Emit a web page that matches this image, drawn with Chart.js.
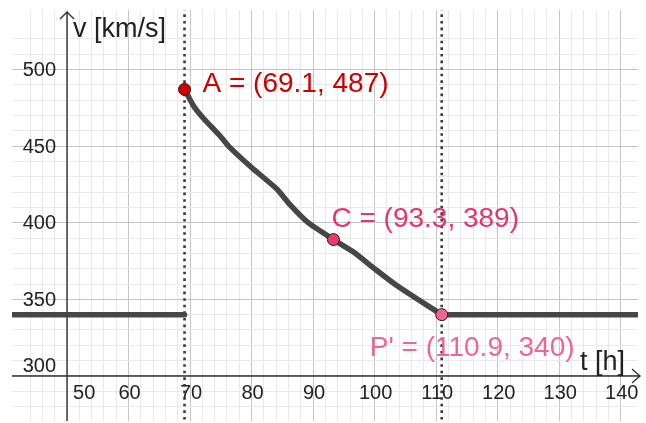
<!DOCTYPE html>
<html>
<head>
<meta charset="utf-8">
<script src="https://cdn.jsdelivr.net/npm/chart.js@4"></script>
<style>
  html, body { margin: 0; padding: 0; background: #fff; overflow: hidden; }
  #wrap { width: 646px; height: 428px; }
</style>
</head>
<body>
<div id="wrap"><canvas id="chart"></canvas></div>
<script>
// curve: t [h], v [km/s]
const curveT = [69.1, 70.6, 72.2, 74.9, 76.5, 80.0, 84.1, 86.2, 89.2, 93.3, 96.5, 100.3, 103.6, 106.8, 110.9];
const curveV = [487, 476, 468, 456.5, 449, 436, 422, 412, 400, 389, 381, 369, 359, 350.5, 340];

const flatV = 340;
const leftFlatT = [35, 69.1];
const rightFlatT = [110.9, 150];

const pointNames = ['A', 'C', "P'"];
const pointT = [69.1, 93.3, 110.9];
const pointV = [487, 389, 340];

const markerT = [69.1, 110.9];

const xTicks = [50, 60, 70, 80, 90, 100, 110, 120, 130, 140];
const yTicks = [300, 350, 400, 450, 500];

const originT = 50, originV = 300;

// styles
const pointFill = ['#d40000', '#ec3a6e', '#f06496'];
const labelColor = ['#cc0000', '#e8336b', '#ef6596'];
const labelOffset = [[18, 3], [-2, -13], [-72, 41]];
const FONT = '"Liberation Sans", Arial, sans-serif';

const near = (v, step) => Math.abs(v - Math.round(v / step) * step) < 1e-6;

const gridColor = (major) => (c) => {
  const v = c.tick.value;
  if (near(v, major)) return '#c4c4c4';
  if (near(v, major / 5)) return '#e9e9e9';
  return 'rgba(0,0,0,0)';
};

const axesPlugin = {
  id: 'axes',
  beforeDatasetsDraw(chart) {
    const { ctx, chartArea: a, scales: { x, y } } = chart;
    const ox = x.getPixelForValue(originT);
    const oy = y.getPixelForValue(originV);
    ctx.save();
    ctx.strokeStyle = '#333';
    ctx.lineWidth = 1.4;
    ctx.beginPath();
    ctx.moveTo(a.left, oy); ctx.lineTo(a.right + 2, oy);
    ctx.moveTo(ox, a.bottom); ctx.lineTo(ox, a.top + 2);
    // arrows
    ctx.moveTo(a.right - 6, oy - 7); ctx.lineTo(a.right + 2, oy); ctx.lineTo(a.right - 6, oy + 7);
    ctx.moveTo(ox - 7, a.top + 9); ctx.lineTo(ox, a.top + 2); ctx.lineTo(ox + 7, a.top + 9);
    ctx.stroke();

    ctx.fillStyle = '#222';
    ctx.font = '20px ' + FONT;
    ctx.textBaseline = 'top';
    xTicks.forEach(t => {
      const px = x.getPixelForValue(t);
      if (t === originT) { ctx.textAlign = 'left'; ctx.fillText(String(t), px + 6, oy + 8); }
      else { ctx.textAlign = 'center'; ctx.fillText(String(t), px + 1, oy + 8); }
    });
    ctx.textAlign = 'right';
    yTicks.forEach(v => {
      const py = y.getPixelForValue(v);
      if (v === originV) { ctx.textBaseline = 'alphabetic'; ctx.fillText(String(v), ox - 11, py - 4); }
      else { ctx.textBaseline = 'middle'; ctx.fillText(String(v), ox - 11, py + 1); }
    });

    ctx.font = '27px ' + FONT;
    ctx.textBaseline = 'alphabetic';
    ctx.textAlign = 'left';
    ctx.fillText('v [km/s]', ox + 6, a.top + 27);
    ctx.textAlign = 'right';
    ctx.fillText('t [h]', a.right - 13, oy - 6);
    ctx.restore();
  },
  afterDatasetsDraw(chart) {
    const { ctx, scales: { x, y } } = chart;
    ctx.save();
    ctx.font = '28px ' + FONT;
    ctx.textAlign = 'left';
    ctx.textBaseline = 'alphabetic';
    pointNames.forEach((n, i) => {
      const px = x.getPixelForValue(pointT[i]);
      const py = y.getPixelForValue(pointV[i]);
      ctx.fillStyle = labelColor[i];
      ctx.fillText(`${n} = (${pointT[i]}, ${pointV[i]})`, px + labelOffset[i][0], py + labelOffset[i][1]);
    });
    ctx.restore();
  }
};

const lineStyle = {
  borderColor: '#464646', borderWidth: 5.5, pointRadius: 0,
  borderCapStyle: 'round', borderJoinStyle: 'round', fill: false
};

new Chart('chart', {
  type: 'line',
  data: {
    datasets: [{
      data: pointT.map((t, i) => ({ x: t, y: pointV[i] })),
      showLine: false,
      pointRadius: 6,
      pointBackgroundColor: pointFill,
      pointBorderColor: '#2a1a1a',
      pointBorderWidth: 1
    }, {
      ...lineStyle, tension: 0.2,
      data: curveT.map((t, i) => ({ x: t, y: curveV[i] }))
    }, {
      ...lineStyle,
      data: leftFlatT.map(t => ({ x: t, y: flatV }))
    }, {
      ...lineStyle,
      data: rightFlatT.map(t => ({ x: t, y: flatV }))
    }, ...markerT.map(t => ({
      data: [{ x: t, y: 250 }, { x: t, y: 560 }],
      borderColor: '#3a3a3a', borderWidth: 2.6, borderDash: [2.6, 4],
      pointRadius: 0
    }))]
  },
  options: {
    responsive: true,
    maintainAspectRatio: false,
    animation: false,
    layout: { padding: { left: 12, right: 8, top: 10, bottom: 0 } },
    plugins: { legend: { display: false }, tooltip: { enabled: false } },
    scales: {
      x: {
        type: 'linear', min: 41.06, max: 142.8,
        ticks: { display: false, stepSize: 2 },
        border: { display: false },
        grid: { drawTicks: false, color: gridColor(10), lineWidth: 1 },
        afterFit(s) { s.height = 0; }
      },
      y: {
        type: 'linear', min: 270.6, max: 538.8,
        ticks: { display: false, stepSize: 10 },
        border: { display: false },
        grid: { drawTicks: false, color: gridColor(50), lineWidth: 1 },
        afterFit(s) { s.width = 0; }
      }
    }
  },
  plugins: [axesPlugin]
});
</script>
</body>
</html>
